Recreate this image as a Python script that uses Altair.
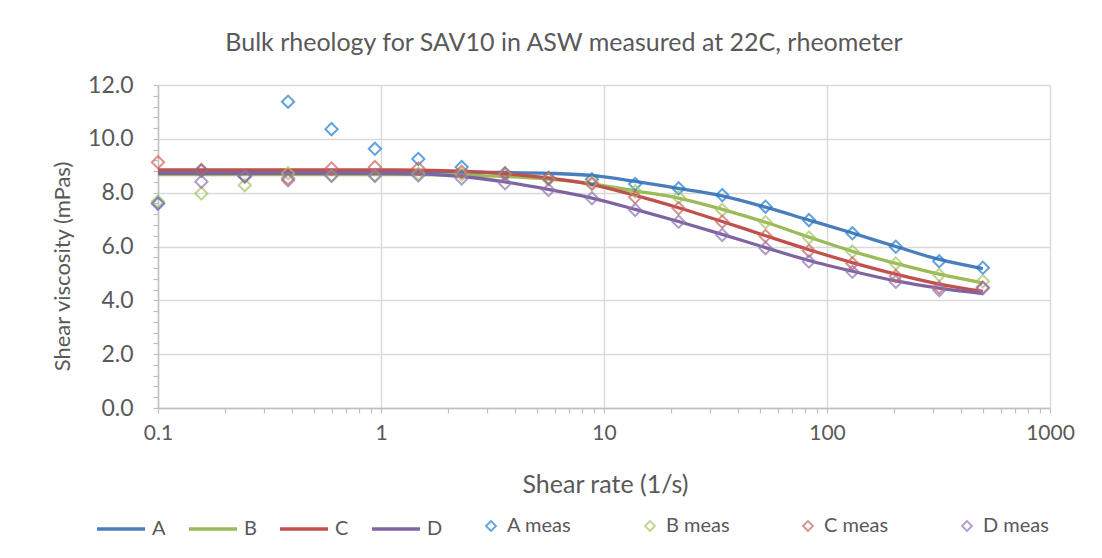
import altair as alt
import pandas as pd

# ---- data ----
shear_rate = [0.1, 0.1565, 0.245, 0.383, 0.6, 0.939, 1.47, 2.3, 3.6, 5.64,
              8.83, 13.8, 21.6, 33.9, 53.0, 83.0, 130.0, 203.5, 318.6, 500.0]

series_names = ["A", "B", "C", "D"]
meas_names = ["A meas", "B meas", "C meas", "D meas"]

fit_A = [8.77, 8.77, 8.77, 8.77, 8.77, 8.77, 8.77, 8.76, 8.75, 8.72,
         8.64, 8.42, 8.16, 7.88, 7.46, 6.98, 6.50, 6.00, 5.52, 5.18]
fit_B = [8.67, 8.67, 8.67, 8.67, 8.67, 8.67, 8.67, 8.65, 8.60, 8.50,
         8.33, 8.07, 7.80, 7.38, 6.90, 6.35, 5.82, 5.37, 4.97, 4.65]
fit_C = [8.85, 8.85, 8.85, 8.85, 8.85, 8.85, 8.84, 8.80, 8.70, 8.55,
         8.30, 7.90, 7.44, 6.93, 6.40, 5.88, 5.40, 4.97, 4.60, 4.33]
fit_D = [8.72, 8.72, 8.72, 8.72, 8.72, 8.72, 8.70, 8.60, 8.40, 8.12,
         7.80, 7.38, 6.93, 6.45, 5.96, 5.48, 5.08, 4.72, 4.45, 4.25]

meas_A = [7.60, 8.82, 8.62, 11.38, 10.36, 9.63, 9.25, 8.95, 8.72, 8.55,
          8.50, 8.32, 8.16, 7.91, 7.48, 6.98, 6.49, 5.99, 5.45, 5.21]
meas_B = [7.67, 7.97, 8.28, 8.72, 8.62, 8.62, 8.70, 8.68, 8.69, 8.50,
          8.38, 8.05, 7.83, 7.36, 6.90, 6.33, 5.81, 5.37, 4.94, 4.71]
meas_C = [9.13, 8.84, 8.60, 8.46, 8.90, 8.95, 8.90, 8.78, 8.70, 8.52,
          8.32, 7.83, 7.42, 6.92, 6.39, 5.84, 5.37, 4.90, 4.48, 4.48]
meas_D = [7.60, 8.41, 8.60, 8.53, 8.64, 8.64, 8.64, 8.53, 8.35, 8.10,
          7.79, 7.36, 6.92, 6.43, 5.94, 5.44, 5.06, 4.69, 4.38, 4.45]

line_colors = ["#4A7EBB", "#9BBB59", "#C0504D", "#8064A2"]
meas_colors = ["#1F7BD0", "#A3C562", "#D0605C", "#8E74B3"]

x_ticks = sorted({round(m * 10 ** e, 6) for e in range(-1, 3) for m in range(1, 10)} | {1000.0})
y_ticks = [round(i * 0.4, 1) for i in range(31)]

# ---- tables ----
fit_df = pd.DataFrame({
    "rate": shear_rate * 4,
    "visc": fit_A + fit_B + fit_C + fit_D,
    "series": [s for s in series_names for _ in shear_rate],
})
meas_df = pd.DataFrame({
    "rate": shear_rate * 4,
    "visc": meas_A + meas_B + meas_C + meas_D,
    "series": [s for s in meas_names for _ in shear_rate],
})

FONT = "Lato"
TXT = "#595959"

x_major = "abs(log(datum.value)/LN10 - round(log(datum.value)/LN10)) < 0.001"
y_major = "abs(datum.value/2 - round(datum.value/2)) < 0.001"

x_enc = alt.X(
    "rate:Q",
    scale=alt.Scale(type="log", domain=[0.1, 1000], nice=False),
    axis=alt.Axis(
        values=x_ticks,
        title="Shear rate (1/s)",
        labelExpr=f"({x_major}) ? format(datum.value, '~g') : ''",
        labelOverlap=False, labelFlush=False,
        labelFont=FONT, labelFontSize=21, labelColor=TXT, labelPadding=9,
        titleFont=FONT, titleFontSize=25, titleColor=TXT, titleFontWeight="normal",
        titleX=447, titleY=76, titleBaseline="middle", titleAlign="center",
        gridOpacity={"condition": {"test": x_major, "value": 1}, "value": 0},
        gridColor="#D9D9D9", gridWidth=1.4,
        domainColor="#BFBFBF", domainWidth=1.4,
        tickColor="#BFBFBF", tickSize=5, tickWidth=1.2,
    ),
)
y_enc = alt.Y(
    "visc:Q",
    scale=alt.Scale(domain=[0, 12], nice=False, zero=True),
    axis=alt.Axis(
        values=y_ticks,
        title="Shear viscosity (mPas)",
        labelExpr=f"({y_major}) ? format(datum.value, '.1f') : ''",
        labelOverlap=False, labelFlush=False,
        labelFont=FONT, labelFontSize=23, labelColor=TXT, labelPadding=20,
        titleFont=FONT, titleFontSize=22, titleColor=TXT, titleFontWeight="normal",
        titleX=-96, titleY=181, titleBaseline="middle", titleAlign="center", titleAngle=270,
        gridOpacity={"condition": {"test": y_major, "value": 1}, "value": 0},
        gridColor="#D9D9D9", gridWidth=1.4,
        domainColor="#BFBFBF", domainWidth=1.4,
        tickColor="#BFBFBF", tickSize=5, tickWidth=1.2,
    ),
)

lines = alt.Chart(fit_df).mark_line(strokeWidth=3.3, interpolate="monotone").encode(
    x=x_enc,
    y=y_enc,
    color=alt.Color(
        "series:N",
        scale=alt.Scale(domain=series_names, range=line_colors),
        legend=alt.Legend(
            title=None, orient="none", legendX=-63, legendY=418,
            direction="horizontal", columns=4, padding=0,
            symbolType="stroke", symbolSize=2304, symbolStrokeWidth=3.3,
            labelFont=FONT, labelFontSize=20, labelColor=TXT, labelOffset=5,
            columnPadding=16,
        ),
    ),
)

points = alt.Chart(meas_df).mark_point(
    shape="diamond", filled=False, size=150, strokeWidth=2
).encode(
    x=x_enc,
    y=y_enc,
    stroke=alt.Stroke(
        "series:N",
        scale=alt.Scale(domain=meas_names, range=meas_colors),
        legend=alt.Legend(
            title=None, orient="none", legendX=323, legendY=431,
            direction="horizontal", columns=4, padding=0,
            symbolType="diamond", symbolSize=100, symbolStrokeWidth=1.8,
            symbolFillColor="white",
            labelFont=FONT, labelFontSize=20, labelColor=TXT, labelOffset=6,
            columnPadding=68,
        ),
    ),
)

chart = alt.layer(lines, points).resolve_scale(color="independent").properties(
    width=892,
    height=323,
    autosize=alt.AutoSizeParams(type="none"),
    padding={"left": 158, "top": 85, "right": 52, "bottom": 150},
    title=alt.TitleParams(
        "Bulk rheology for SAV10 in ASW measured at 22C, rheometer",
        font=FONT, fontSize=25, color=TXT, fontWeight="normal",
        anchor="middle", offset=18, dx=-40,
    ),
    background="white",
).configure_view(stroke=None)

chart.save("out.html", embed_options={"renderer": "svg", "actions": False})
